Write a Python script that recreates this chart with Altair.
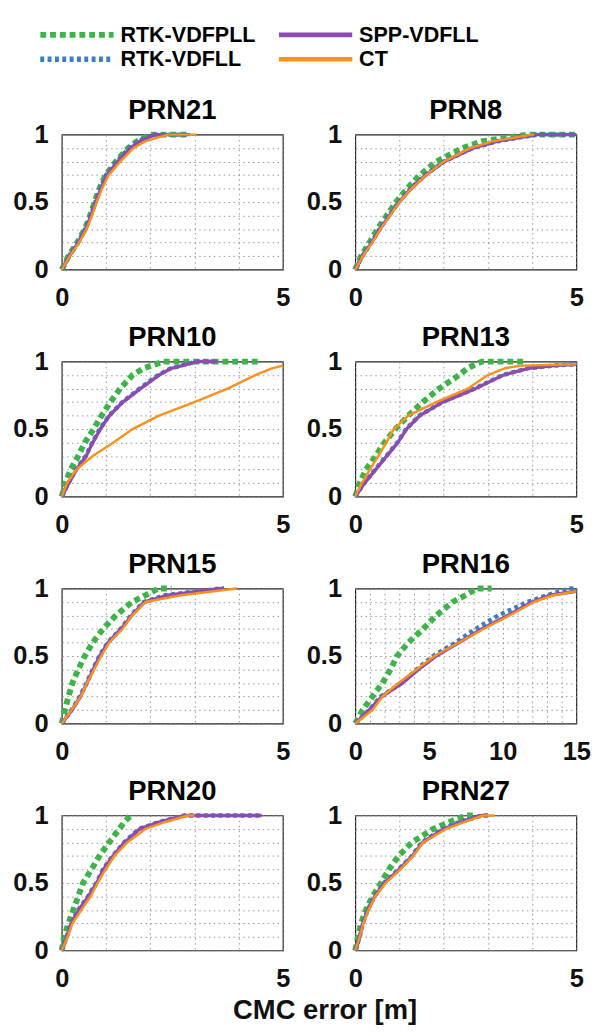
import altair as alt
import pandas as pd

# ---------------- series / styling ----------------
SERIES = ["RTK-VDFPLL", "RTK-VDFLL", "SPP-VDFLL", "CT"]
COLORS = ["#3db34a", "#3a7ec6", "#8e4bb0", "#f7921e"]
DASHES = [[6, 4], [4, 3.5], [1, 0], [1, 0]]
WIDTHS = [6, 4.5, 3.5, 2.5]

# legend layout (column / row of each entry)
LEG_COL = [0, 0, 1, 1]
LEG_ROW = [0, 1, 0, 1]

# CDF probability levels
LEVELS = [0, 0.1, 0.2, 0.3, 0.4, 0.5, 0.6, 0.7, 0.8, 0.9, 0.95, 1.0, 1.0]
LEVELS_TO1 = [0, 0.1, 0.2, 0.3, 0.4, 0.5, 0.6, 0.7, 0.8, 0.9, 0.95, 1.0]
LEVELS_097 = [0, 0.1, 0.2, 0.3, 0.4, 0.5, 0.6, 0.7, 0.8, 0.9, 0.95, 0.97]
LEVELS_098 = [0, 0.1, 0.2, 0.3, 0.4, 0.5, 0.6, 0.7, 0.8, 0.9, 0.95, 0.97, 0.98]
LEVELS_16 = [0, 0.1, 0.2, 0.3, 0.4, 0.5, 0.6, 0.7, 0.8, 0.9, 0.95, 0.98]

# ---------------- CMC error quantiles (m) ----------------
# PRN21
P21_G = [0, .15, .35, .52, .64, .74, .85, .99, 1.22, 1.5, 1.7, 2.0, 2.9]
P21_B = [0, .16, .36, .53, .65, .76, .87, 1.0, 1.24, 1.52, 1.72, 2.05, 2.9]
P21_P = [0, .17, .37, .54, .66, .77, .88, 1.02, 1.26, 1.55, 1.76, 2.1, 2.9]
P21_O = [0, .18, .39, .56, .68, .79, .91, 1.06, 1.32, 1.62, 1.88, 2.4, 3.05]
# PRN8
P8_G = [0, .13, .32, .5, .71, .92, 1.17, 1.46, 1.83, 2.42, 2.86, 3.9, 5.0]
P8_B = [0, .16, .36, .55, .76, .98, 1.25, 1.58, 2.0, 2.65, 3.2, 4.1, 5.0]
P8_P = [0, .16, .37, .56, .77, .99, 1.26, 1.59, 2.01, 2.66, 3.2, 4.1, 5.0]
P8_O = [0, .17, .38, .57, .78, 1.0, 1.27, 1.6, 2.0, 2.6, 3.1, 4.0, 4.05]
# PRN10
P10_G = [0, .08, .2, .37, .52, .72, .9, 1.1, 1.32, 1.6, 1.85, 2.3, 4.48]
P10_B = [0, .15, .32, .54, .69, .86, 1.07, 1.37, 1.76, 2.18, 2.46, 3.05, 3.52]
P10_P = [0, .16, .33, .55, .7, .87, 1.08, 1.38, 1.78, 2.2, 2.48, 3.07, 3.52]
P10_O = [0, .12, .33, .7, 1.17, 1.6, 2.2, 3.0, 3.75, 4.38, 4.75, 5.0]
# PRN13
P13_G = [0, .1, .24, .46, .66, .91, 1.2, 1.53, 1.9, 2.35, 2.53, 2.86, 3.82]
P13_B = [0, .2, .45, .7, .95, 1.15, 1.45, 1.97, 2.7, 3.33, 3.9, 4.48, 5.0]
P13_P = [0, .21, .46, .71, .96, 1.16, 1.46, 1.98, 2.72, 3.35, 3.92, 4.5, 5.0]
P13_O = [0, .15, .33, .52, .7, .87, 1.2, 1.83, 2.55, 3.0, 3.38, 3.75, 5.0]
# PRN15
P15_G = [0, .07, .15, .24, .37, .52, .7, .93, 1.22, 1.59, 1.89, 2.19, 2.48]
P15_B = [0, .22, .41, .56, .7, .85, 1.04, 1.33, 1.56, 1.85, 2.33, 3.6, 3.67]
P15_P = [0, .23, .42, .57, .71, .86, 1.05, 1.34, 1.58, 1.87, 2.4, 3.6, 3.67]
P15_O = [0, .22, .43, .57, .73, .89, 1.07, 1.37, 1.59, 1.89, 2.7, 3.96, 3.96]
# PRN16
P16_G = [0, .5, 1.17, 1.84, 2.39, 2.83, 3.6, 4.6, 5.49, 6.6, 7.48, 8.25, 9.25]
P16_B = [0, .95, 1.73, 3.16, 4.16, 5.27, 6.81, 8.14, 9.69, 11.68, 13.0, 14.56, 14.8]
P16_P = [0, .95, 1.8, 3.2, 4.3, 5.49, 7.04, 8.58, 10.35, 12.0, 13.2, 15.0]
P16_O = [0, 1.17, 1.84, 2.94, 4.16, 5.38, 7.04, 8.69, 10.46, 12.12, 13.45, 15.0]
# PRN20
P20_G = [0, .05, .15, .26, .37, .48, .67, .85, 1.07, 1.3, 1.41, 1.56]
P20_B = [0, .11, .2, .37, .59, .78, .93, 1.15, 1.41, 1.74, 2.19, 2.78, 4.52]
P20_P = [0, .12, .21, .38, .6, .79, .94, 1.16, 1.42, 1.76, 2.2, 2.78, 4.52]
P20_O = [0, .13, .24, .44, .65, .81, .99, 1.19, 1.48, 1.89, 2.33, 2.85, 3.0]
# PRN27
P27_G = [0, .06, .13, .24, .39, .58, .76, .98, 1.28, 1.76, 2.12, 2.49, 2.71]
P27_B = [0, .1, .17, .28, .43, .65, .98, 1.28, 1.5, 1.98, 2.35, 2.86, 3.0]
P27_P = [0, .1, .17, .29, .44, .66, .99, 1.29, 1.52, 2.0, 2.38, 2.86, 3.0]
P27_O = [0, .1, .18, .3, .45, .69, 1.02, 1.31, 1.53, 2.05, 2.46, 2.9, 3.16]

PANEL_NAMES = ["PRN21", "PRN8", "PRN10", "PRN13", "PRN15", "PRN16", "PRN20", "PRN27"]
PANEL_XMAX = [5, 5, 5, 5, 5, 15, 5, 5]
PANEL_CURVES = [
    [(P21_G, LEVELS), (P21_B, LEVELS), (P21_P, LEVELS), (P21_O, LEVELS)],
    [(P8_G, LEVELS), (P8_B, LEVELS), (P8_P, LEVELS), (P8_O, LEVELS)],
    [(P10_G, LEVELS), (P10_B, LEVELS), (P10_P, LEVELS), (P10_O, LEVELS_097)],
    [(P13_G, LEVELS), (P13_B, LEVELS_098), (P13_P, LEVELS_098), (P13_O, LEVELS_098)],
    [(P15_G, LEVELS), (P15_B, LEVELS), (P15_P, LEVELS), (P15_O, LEVELS)],
    [(P16_G, LEVELS), (P16_B, LEVELS), (P16_P, LEVELS_16), (P16_O, LEVELS_16)],
    [(P20_G, LEVELS_TO1), (P20_B, LEVELS), (P20_P, LEVELS), (P20_O, LEVELS)],
    [(P27_G, LEVELS), (P27_B, LEVELS), (P27_P, LEVELS), (P27_O, LEVELS)],
]

FONT = "Liberation Sans"
PW, PH = 226, 138

rows = []
for pname, curves in zip(PANEL_NAMES, PANEL_CURVES):
    for sname, (xs, ys) in zip(SERIES, curves):
        for k, (xv, yv) in enumerate(zip(xs, ys)):
            rows.append({"panel": pname, "series": sname, "idx": k, "x": xv, "y": yv})
df = pd.DataFrame(rows)

Y_TICKS = [round(k / 10, 1) for k in range(11)]


def panel(i):
    pname = PANEL_NAMES[i]
    xmax = PANEL_XMAX[i]
    sub = df[df["panel"] == pname]
    xaxis = alt.Axis(
        values=list(range(0, xmax + 1)),
        labelExpr="datum.value % 5 == 0 ? datum.label : ''",
        format="d",
        title=None,
    )
    yaxis = alt.Axis(
        values=Y_TICKS,
        labelExpr="datum.value == 0 ? '0' : (datum.value == 0.5 ? '0.5' : (datum.value == 1 ? '1' : ''))",
        title=None,
    )
    layers = []
    for s, c, d, w in zip(SERIES, COLORS, DASHES, WIDTHS):
        mk = dict(color=c, strokeWidth=w, strokeJoin="round")
        if d != [1, 0]:
            mk["strokeDash"] = d
        layers.append(
            alt.Chart(sub[sub["series"] == s])
            .mark_line(**mk)
            .encode(
                x=alt.X("x:Q", scale=alt.Scale(domain=[0, xmax], nice=False, zero=False), axis=xaxis),
                y=alt.Y("y:Q", scale=alt.Scale(domain=[0, 1], nice=False), axis=yaxis),
                order="idx:Q",
            )
        )
    return alt.layer(*layers).properties(
        width=PW,
        height=PH,
        title=alt.TitleParams(pname, fontSize=28, font=FONT, fontWeight="bold",
                              color="black", offset=-3, anchor="middle"),
    )


# ---------------- legend (drawn from the series table) ----------------
leg_df = pd.DataFrame({"series": SERIES, "col": LEG_COL, "row": LEG_ROW})
leg_xs = alt.Scale(domain=[0, 1], range=[-22, 222])
leg_ys = alt.Scale(domain=[0, 1], range=[12, 37])
leg_sym = (
    alt.Chart(leg_df)
    .transform_calculate(col_end="datum.col + 0.307")
    .mark_rule(opacity=1)
    .encode(
        x=alt.X("col:Q", scale=leg_xs, axis=None),
        x2="col_end:Q",
        y=alt.Y("row:Q", scale=leg_ys, axis=None),
        color=alt.Color("series:N", scale=alt.Scale(domain=SERIES, range=COLORS), legend=None),
        strokeDash=alt.StrokeDash("series:N", scale=alt.Scale(domain=SERIES, range=DASHES), legend=None),
        strokeWidth=alt.StrokeWidth("series:N", scale=alt.Scale(domain=SERIES, range=WIDTHS), legend=None),
    )
)
leg_txt = (
    alt.Chart(leg_df)
    .transform_calculate(col_end="datum.col + 0.307")
    .mark_text(align="left", baseline="middle", dx=7, fontSize=22, font=FONT,
               fontWeight="bold", color="black")
    .encode(
        x=alt.X("col_end:Q", scale=leg_xs, axis=None),
        y=alt.Y("row:Q", scale=leg_ys, axis=None),
        text="series:N",
    )
)
legend = alt.layer(leg_sym, leg_txt).properties(
    width=500, height=63, view=alt.ViewBackground(strokeOpacity=0)
)

grid_rows = [alt.hconcat(panel(2 * r), panel(2 * r + 1), spacing=15) for r in range(4)]

chart = (
    alt.vconcat(legend, *grid_rows, spacing=12)
    .properties(
        title=alt.TitleParams("CMC error [m]", orient="bottom", anchor="middle", fontSize=28,
                              font=FONT, fontWeight="bold", color="#111", offset=5, dx=24),
        padding={"left": 4, "top": 4, "right": 0, "bottom": 0},
    )
    .configure_view(stroke="#222", strokeWidth=1.2)
    .configure_axis(
        labelFont=FONT, labelFontSize=26, labelFontWeight="bold", labelColor="#111",
        labelFlush=False, labelOverlap=False, labelPadding=16,
        ticks=False, domain=False,
        grid=True, gridColor="#8a8a8a", gridDash=[1.5, 3.5], gridWidth=1, gridOpacity=0.9,
    )
    .configure_axisY(labelPadding=14)
)

chart.save("out.html", embed_options={"renderer": "svg", "actions": False})
